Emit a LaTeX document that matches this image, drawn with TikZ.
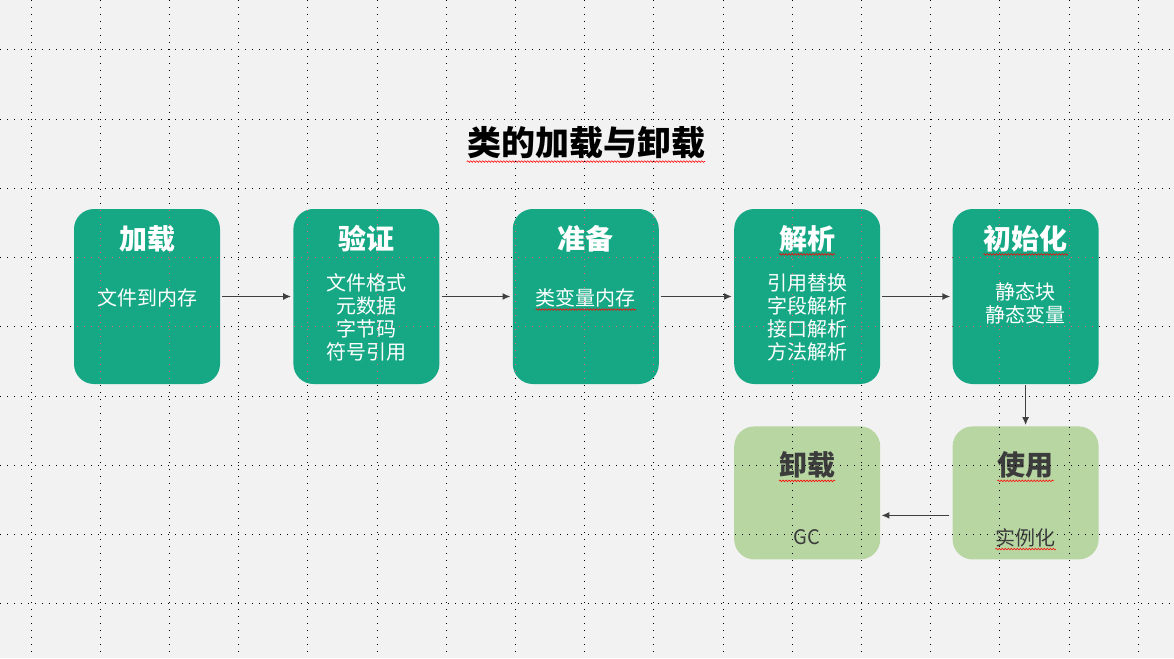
\documentclass[tikz,border=0pt]{standalone}
\usepackage{fontspec}
\setmainfont{Noto Sans CJK SC}
\usetikzlibrary{arrows.meta,positioning,calc,decorations.pathmorphing}
\definecolor{canvas}   {HTML}{F2F2F2}
\definecolor{stagebg}  {HTML}{16A884}
\definecolor{leaf}     {HTML}{B8D6A2}
\definecolor{inkdark}  {HTML}{3C3C3C}
\definecolor{arrowgray}{HTML}{404040}
\definecolor{gridpink} {HTML}{F0607A}
\tikzset{
  stage/.style={
    rectangle, rounded corners=20pt, fill=stagebg,
    minimum width=146pt, minimum height=175pt, inner sep=0pt
  },
  stagelight/.style={stage, fill=leaf, minimum height=133pt},
  stagetitle/.style={font=\fontsize{28}{30}\selectfont\bfseries, text=white, inner sep=0pt},
  stagetitledark/.style={stagetitle, text=inkdark},
  stagebody/.style={font=\fontsize{20}{23}\selectfont, text=white, align=center, inner sep=0pt},
  stagebodydark/.style={stagebody, text=inkdark},
  steparrow/.style={-{Latex[length=8pt, width=7pt]}, line width=1.7pt, draw=arrowgray},
  gridline/.style={line width=1pt, dash pattern=on 1pt off 6pt},
  squiggle/.style={draw=red, line width=0.6pt, decorate,
                   decoration={snake, amplitude=0.8pt, segment length=3pt}}
}
% dotted page grid
\newcommand\dotgrid[1]{%
  \foreach \gx in {0,...,16}
    \draw[gridline, draw=#1] ({31+69.2*\gx},0) -- ({31+69.2*\gx},658);
  \foreach \gy in {0,...,8}
    \draw[gridline, draw=#1] (0,{50+69.2*\gy}) -- (1174,{50+69.2*\gy});
}

\begin{document}
\begin{tikzpicture}[x=1pt, y=-1pt]
  \fill[canvas] (0,0) rectangle (1174,658);
  \useasboundingbox (0,0) rectangle (1174,658);

  \node[font=\fontsize{34}{36}\selectfont\bfseries, inner sep=0pt] (heading) at (586,143) {类的加载与卸载};

  % top row
  \node[stage] (load) at (147,296.5) {};
  \node[stage, right=73pt of load] (verify) {};
  \node[stage, right=73pt of verify] (prepare) {};
  \node[stage, right=75pt of prepare] (resolve) {};
  \node[stage, right=72pt of resolve] (init) {};
  % bottom row
  \node[stagelight, below=42pt of init] (use) {};
  \node[stagelight, left=72pt of use] (unload) {};

  \node[stagetitle] (loadtitle) at ([yshift=-30pt]load.north) {加载};
  \node[stagetitle] (verifytitle) at ([yshift=-30pt]verify.north) {验证};
  \node[stagetitle] (preparetitle) at ([yshift=-30pt]prepare.north) {准备};
  \node[stagetitle] (resolvetitle) at ([yshift=-30pt]resolve.north) {解析};
  \node[stagetitle] (inittitle) at ([yshift=-30pt]init.north) {初始化};
  \node[stagetitledark] (usetitle) at ([yshift=-39pt]use.north) {使用};
  \node[stagetitledark] (unloadtitle) at ([yshift=-39pt]unload.north) {卸载};

  \node[stagebody] (loadbody) at ([yshift=-1.5pt]load.center) {文件到内存};
  \node[stagebody] (verifybody) at ([yshift=-20.5pt]verify.center) {文件格式\\元数据\\字节码\\符号引用};
  \node[stagebody] (preparebody) at ([yshift=-1.5pt]prepare.center) {类变量内存};
  \node[stagebody] (resolvebody) at ([yshift=-20.5pt]resolve.center) {引用替换\\字段解析\\接口解析\\方法解析};
  \node[stagebody] (initbody) at ([yshift=-7pt]init.center) {静态块\\静态变量};
  \node[stagebodydark] (usebody) at ([yshift=22pt]use.south) {实例化};
  \node[stagebodydark] (unloadbody) at ([yshift=22pt]unload.south) {GC};

  % spell-check marks
  \foreach \n in {heading, resolvetitle, inittitle, preparebody, usetitle, unloadtitle, usebody}
    \draw[squiggle] ([yshift=-2pt]\n.south west) -- ([yshift=-2pt]\n.south east);

  \draw[steparrow, shorten <=2pt, shorten >=2pt] (load) -- (verify);
  \draw[steparrow, shorten <=2pt, shorten >=2pt] (verify) -- (prepare);
  \draw[steparrow, shorten <=2pt, shorten >=2pt] (prepare) -- (resolve);
  \draw[steparrow, shorten <=2pt, shorten >=2pt] (resolve) -- (init);
  \draw[steparrow, shorten <=1pt, shorten >=1pt] (init) -- (use);
  \draw[steparrow, shorten <=3pt, shorten >=1pt] ([yshift=-22.5pt]use.west) -- ([yshift=-22.5pt]unload.east);

  \dotgrid{black}
  \begin{scope}
    \clip[rounded corners=20pt] (load.south west) rectangle (load.north east)
      (verify.south west) rectangle (verify.north east)
      (prepare.south west) rectangle (prepare.north east)
      (resolve.south west) rectangle (resolve.north east)
      (init.south west) rectangle (init.north east);
    \dotgrid{gridpink}
  \end{scope}
\end{tikzpicture}
\end{document}
